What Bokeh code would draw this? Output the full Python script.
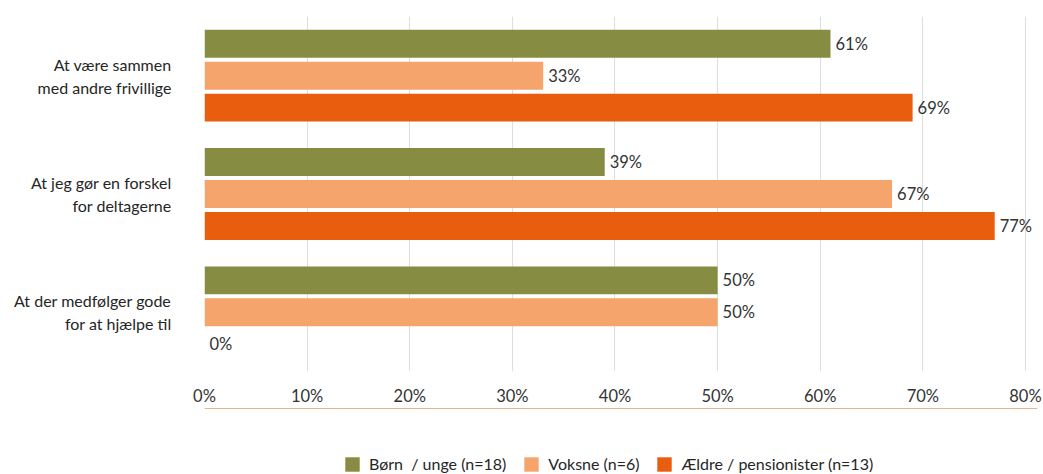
from bokeh.plotting import figure
from bokeh.layouts import column
from bokeh.models import ColumnDataSource, FactorRange, Legend, LegendItem, FixedTicker, CustomJSTickFormatter
from bokeh.transform import dodge
from bokeh.core.properties import value
from bokeh.embed import file_html
from bokeh.resources import INLINE

categories = ["At være sammen\nmed andre frivillige",
              "At jeg gør en forskel\nfor deltagerne",
              "At der medfølger gode\nfor at hjælpe til"]
series_names = ["Børn  / unge (n=18)", "Voksne (n=6)", "Ældre / pensionister (n=13)"]
born = [61, 39, 50]
voksne = [33, 67, 50]
aeldre = [69, 77, 0]
colors = ["#878c43", "#f5a46c", "#e85d0e"]
x_ticks = [0, 10, 20, 30, 40, 50, 60, 70, 80]

src = ColumnDataSource(dict(cat=categories, born=born, voksne=voksne, aeldre=aeldre,
                            born_l=[f"{v}%" for v in born],
                            voksne_l=[f"{v}%" for v in voksne],
                            aeldre_l=[f"{v}%" for v in aeldre]))

p = figure(frame_width=833, frame_height=355, output_backend="svg", toolbar_location=None,
           y_range=FactorRange(*reversed(categories), range_padding=0),
           x_range=(0, 81.17),
           min_border_left=204, min_border_right=6, min_border_top=16, min_border_bottom=0)
p.outline_line_color = None

offsets = [-0.27, 0.0, 0.27]
fields = ["born", "voksne", "aeldre"]
for f, off, c in zip(fields, offsets, colors):
    p.hbar(y=dodge("cat", -off, range=p.y_range), right=f, left=0, height=0.236,
           source=src, fill_color=c, line_color=None)
    p.text(x=f, y=dodge("cat", -off, range=p.y_range), text=f + "_l", source=src,
           x_offset=5, text_baseline="middle", text_align="left",
           text_font=value("Lato"), text_font_size="16.5px", text_color="#333333")

p.xaxis.ticker = FixedTicker(ticks=x_ticks)
p.xaxis.formatter = CustomJSTickFormatter(code="return tick + '%';")
p.xaxis.axis_line_color = None
p.xaxis.major_tick_line_color = None
p.xaxis.minor_tick_line_color = None
p.xaxis.major_label_standoff = 8
p.xaxis.major_label_text_font = "Lato"
p.xaxis.major_label_text_font_size = "16.5px"
p.xaxis.major_label_text_color = "#333333"

p.yaxis.axis_line_color = None
p.yaxis.major_tick_line_color = None
p.yaxis.minor_tick_line_color = None
p.yaxis.major_label_standoff = 27
p.yaxis.major_label_text_font = "Lato"
p.yaxis.major_label_text_font_size = "16px"
p.yaxis.major_label_text_color = "#262626"
p.yaxis.major_label_text_align = "right"

p.ygrid.grid_line_color = None
p.xgrid.grid_line_color = "#dedede"
p.xgrid.ticker = FixedTicker(ticks=x_ticks)

# legend strip below the chart (its frame is aligned with the chart's frame)
lg = figure(width=1043, height=69, output_backend="svg", toolbar_location=None,
            x_range=(0, 1), y_range=(0, 1), x_axis_type=None, y_axis_type=None,
            min_border=0)
lg.outline_line_color = None
lg.grid.grid_line_color = None
lg_renderers = [lg.hbar(y=[5], right=[1], left=0, height=0.1, fill_color=c, line_color=None)
                for c in colors]
legend = Legend(items=[LegendItem(label=n, renderers=[r]) for n, r in zip(series_names, lg_renderers)],
                orientation="horizontal", glyph_width=18, glyph_height=18,
                label_text_font="Lato", label_text_font_size="16px", label_text_color="#262626",
                spacing=16, label_standoff=8, border_line_color=None, background_fill_alpha=0,
                padding=0, margin=0, location=(139, 4))
lg.add_layout(legend, "center")

layout = column(p, lg, spacing=0)
open("out.html", "w").write(file_html(layout, INLINE))
